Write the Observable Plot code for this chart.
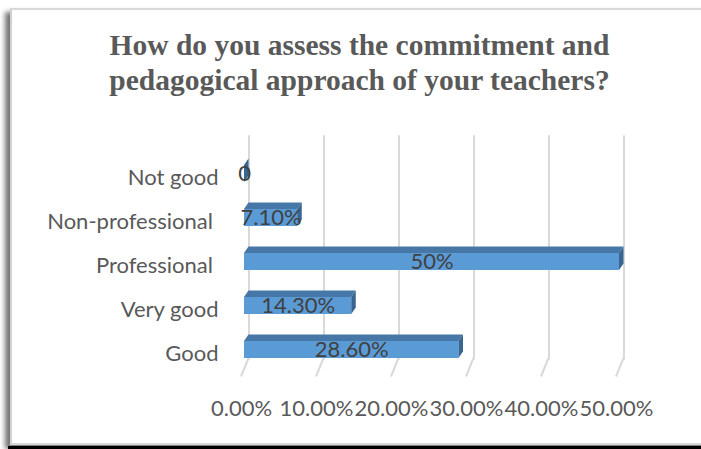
<!DOCTYPE html>
<html>
<head>
<meta charset="utf-8">
<script src="https://cdn.jsdelivr.net/npm/d3@7"></script>
<script src="https://cdn.jsdelivr.net/npm/@observablehq/plot@0.6"></script>
<style>
  html, body { margin: 0; padding: 0; background: #fff; }
  #wrap { position: relative; width: 701px; height: 449px; overflow: hidden; background: #fff; }
  #frame { position: absolute; left: 10px; top: 8px; width: 720px; height: 433px;
           border-top: 2px solid #d9d9d9; border-left: 2px solid #d0d0d0; border-bottom: 2px solid #d9d9d9;
           box-shadow: -5px 4px 5px rgba(0,0,0,0.55); background: #fff; }
  #black { position: absolute; left: 8px; top: 446px; width: 720px; height: 3px; background: #000; }
  #title { position: absolute; left: 9px; width: 701px; top: 28px; text-align: center;
           font-family: "Liberation Serif", "Times New Roman", serif; font-weight: bold; font-size: 29.5px;
           line-height: 35px; color: #595959; }
  #chart { position: absolute; left: 0; top: 0; }
</style>
</head>
<body>
<div id="wrap">
  <div id="frame"></div>
  <div id="black"></div>
  <div id="title">How do you assess the commitment and<br>pedagogical approach of your teachers?</div>
  <div id="chart"></div>
</div>
<script>
// ---- data ----
const categories = ["Not good", "Non-professional\u00a0", "Professional\u00a0", "Very good", "Good"];
const values = [0, 7.1, 50, 14.3, 28.6];
const valueLabels = ["0", "7.10%", "50%", "14.30%", "28.60%"];
const xTicks = [0, 10, 20, 30, 40, 50];
const tickLabels = ["0.00%", "10.00%", "20.00%", "30.00%", "40.00%", "50.00%"];

const data = categories.map((c, i) => ({cat: c, v: values[i], label: valueLabels[i]}));

// 3D look
const FRONT_DX = -4.5, DEPTH_X = 4.5, DEPTH_Y = 6.5;

function pickScales(args) {
  return args.find(a => a && typeof a.x === "function" && typeof a.y === "function");
}
function bandwidthOf(sc, key) {
  const s = sc[key];
  if (typeof s.bandwidth === "function") return s.bandwidth();
  if (typeof s.bandwidth === "number") return s.bandwidth;
  if (sc.scales && sc.scales[key] && typeof sc.scales[key].bandwidth === "number") return sc.scales[key].bandwidth;
  return 17;
}

function floorMark(...args) {
  const sc = pickScales(args);
  const x = sc.x, y = sc.y, bw = bandwidthOf(sc, "y");
  const y0 = y(categories[categories.length - 1]) + bw;
  const g = d3.create("svg:g");
  g.selectAll("line").data(xTicks).join("line")
    .attr("x1", d => x(d)).attr("y1", y0)
    .attr("x2", d => x(d) - 7.5).attr("y2", y0 + 18.5)
    .attr("stroke", "#d9d9d9").attr("stroke-width", 2);
  return g.node();
}

function facesMark(...args) {
  const sc = pickScales(args);
  const x = sc.x, y = sc.y, bw = bandwidthOf(sc, "y");
  const g = d3.create("svg:g");
  data.forEach(d => {
    const yt = y(d.cat), yb = yt + bw;
    const xl = x(0) + FRONT_DX, xr = x(d.v) + FRONT_DX;
    g.append("path")
      .attr("d", `M${xl},${yt}L${xr},${yt}L${xr + DEPTH_X},${yt - DEPTH_Y}L${xl + DEPTH_X},${yt - DEPTH_Y}Z`)
      .attr("fill", "#4677a6");
    g.append("path")
      .attr("d", `M${xr},${yt}L${xr + DEPTH_X},${yt - DEPTH_Y}L${xr + DEPTH_X},${yb - DEPTH_Y}L${xr},${yb}Z`)
      .attr("fill", "#386592");
  });
  return g.node();
}

const chart = Plot.plot({
  width: 701,
  height: 449,
  marginLeft: 248.5,
  marginRight: 77.5,
  marginTop: 135.3,
  marginBottom: 62.2,
  style: {background: "transparent", fontFamily: "Lato, 'Open Sans', sans-serif", color: "#595959", overflow: "visible"},
  x: {domain: [0, 50], axis: null},
  y: {domain: categories, padding: 0.62, axis: null},
  marks: [
    Plot.ruleX(xTicks, {stroke: "#d9d9d9", strokeWidth: 2, insetBottom: 27.3}),
    floorMark,
    Plot.barX(data, {x1: 0, x2: "v", y: "cat", fill: "#5b9bd5", dx: FRONT_DX}),
    facesMark,
    Plot.text(data, {x: d => d.v / 2, y: "cat", text: "label", dx: FRONT_DX, fill: "#404040", fontSize: 22}),
    Plot.axisX(xTicks, {tickSize: 0, tickPadding: 13.5, dx: -7.5, fontSize: 22, label: null,
      tickFormat: d => tickLabels[xTicks.indexOf(d)]}),
    Plot.axisY({tickSize: 0, tickPadding: 30.5, dy: 4, fontSize: 22, label: null})
  ]
});
document.getElementById("chart").appendChild(chart);
</script>
</body>
</html>
